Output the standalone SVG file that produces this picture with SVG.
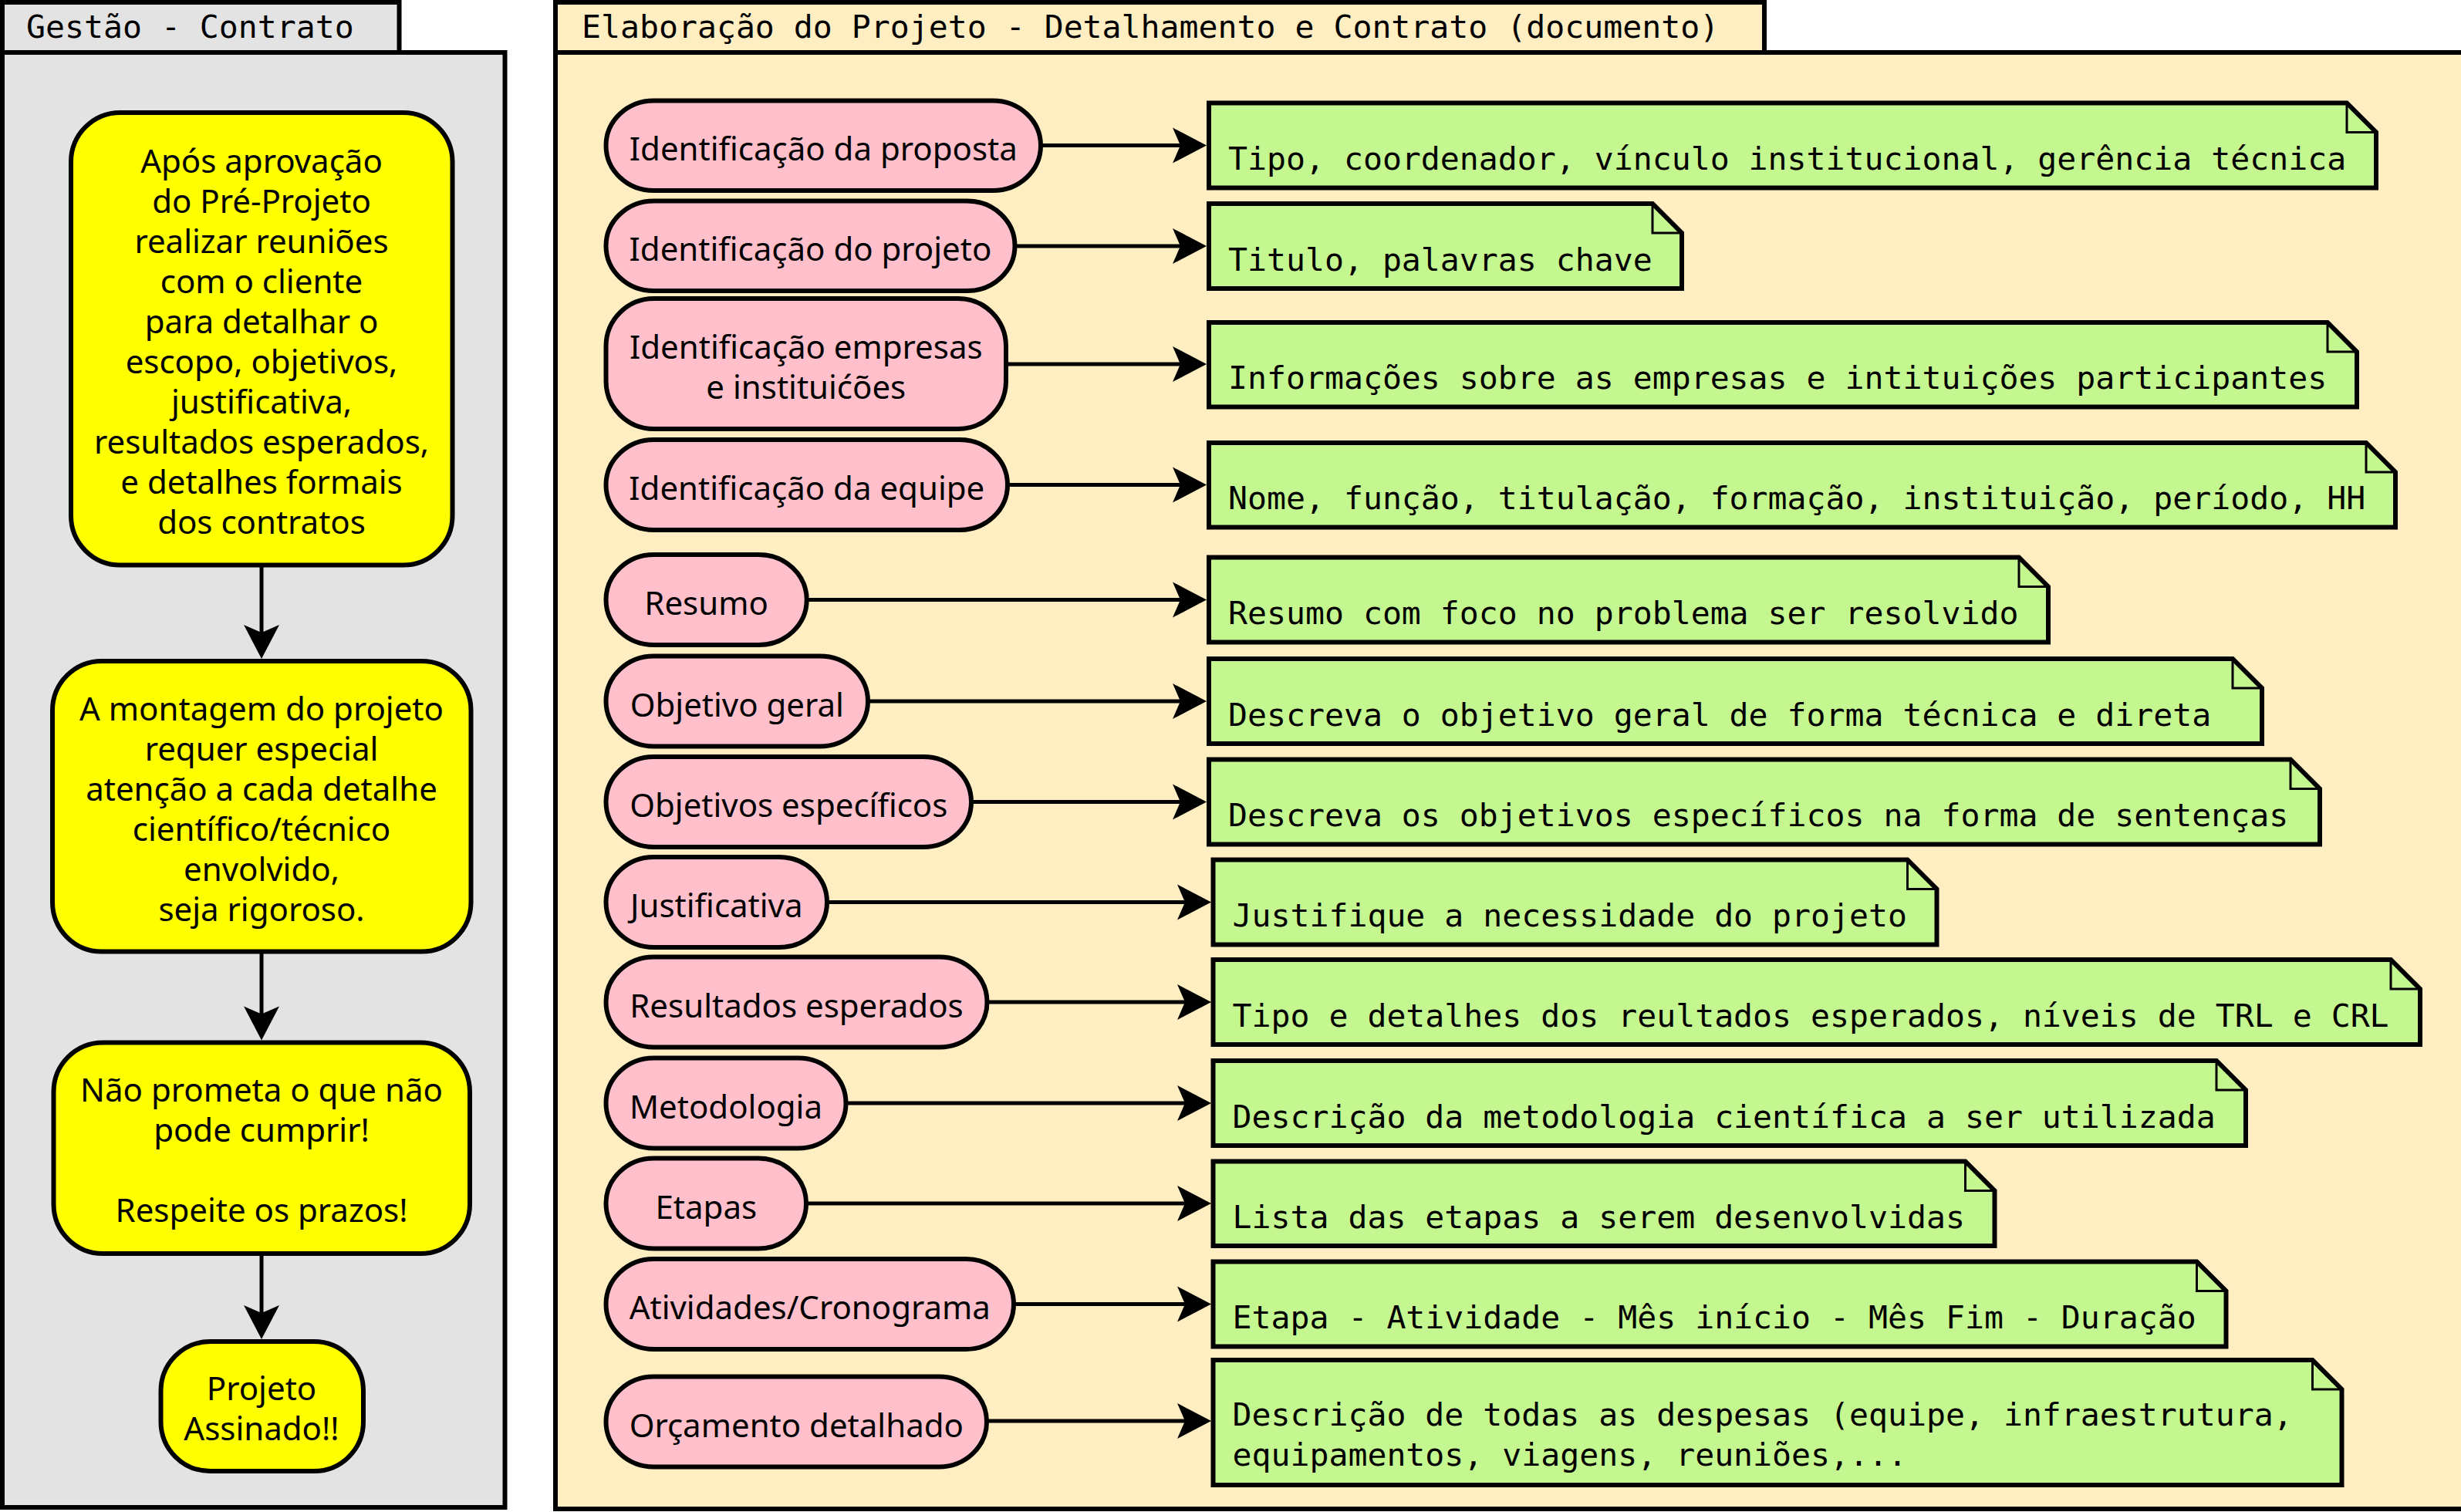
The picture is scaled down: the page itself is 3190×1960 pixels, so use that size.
<svg xmlns="http://www.w3.org/2000/svg" width="3190" height="1960" viewBox="0 0 3190 1960">
<defs>
<style>
.panelL{fill:#E3E3E3;stroke:#000;stroke-width:6}
.panelR{fill:#FFEEC2;stroke:#000;stroke-width:6}
.mono{font-family:"DejaVu Sans Mono",monospace;font-size:41.5px;fill:#000}
.sans{font-family:"Noto Sans","Open Sans",sans-serif;font-size:42px;fill:#000;text-anchor:middle}
.yel{fill:#FFFF00;stroke:#000;stroke-width:6}
.pink{fill:#FFC0CB;stroke:#000;stroke-width:6}
.note{fill:#C5F790;stroke:#000;stroke-width:6;stroke-linejoin:miter}
.fold{fill:none;stroke:#000;stroke-width:3}
.edge{fill:none;stroke:#000;stroke-width:5}
</style>
<marker id="ah" markerUnits="userSpaceOnUse" markerWidth="46" markerHeight="48" viewBox="-15 -24 46 48" refX="0" refY="0" orient="auto">
<path d="M30,0 L-14,-23 L-4,0 L-14,23 Z" fill="#000"/>
</marker>
</defs>

<g id="panel-gestao">
<rect class="panelL" x="3" y="68" width="651.5" height="1886"/>
<rect class="panelL" x="3" y="3" width="514.5" height="65"/>
<text class="mono" x="34" y="49">Gestão - Contrato</text>
</g>

<g id="panel-elaboracao">
<rect class="panelR" x="720" y="68" width="2476" height="1888"/>
<rect class="panelR" x="720" y="3" width="1567" height="65"/>
<text class="mono" x="754" y="49">Elaboração do Projeto - Detalhamento e Contrato (documento)</text>
</g>

<g id="g1">
<rect class="yel" x="92" y="146" width="494.5" height="586.5" rx="64"/>
<text class="sans" x="339" y="224">Após aprovação</text>
<text class="sans" x="339" y="276">do Pré-Projeto</text>
<text class="sans" x="339" y="328">realizar reuniões</text>
<text class="sans" x="339" y="380">com o cliente</text>
<text class="sans" x="339" y="432">para detalhar o</text>
<text class="sans" x="339" y="484">escopo, objetivos,</text>
<text class="sans" x="339" y="536">justificativa,</text>
<text class="sans" x="339" y="588">resultados esperados,</text>
<text class="sans" x="339" y="640">e detalhes formais</text>
<text class="sans" x="339" y="692">dos contratos</text>
</g>
<g id="g2">
<rect class="yel" x="68" y="857" width="542.5" height="376.5" rx="64"/>
<text class="sans" x="339" y="934">A montagem do projeto</text>
<text class="sans" x="339" y="986">requer especial</text>
<text class="sans" x="339" y="1038">atenção a cada detalhe</text>
<text class="sans" x="339" y="1090">científico/técnico</text>
<text class="sans" x="339" y="1142">envolvido,</text>
<text class="sans" x="339" y="1194">seja rigoroso.</text>
</g>
<g id="g3">
<rect class="yel" x="69.5" y="1351.5" width="539.5" height="273.5" rx="64"/>
<text class="sans" x="339" y="1428">Não prometa o que não</text>
<text class="sans" x="339" y="1480">pode cumprir!</text>
<text class="sans" x="339" y="1584">Respeite os prazos!</text>
</g>
<g id="g4">
<rect class="yel" x="208.5" y="1739" width="262.5" height="168" rx="64"/>
<text class="sans" x="339" y="1815">Projeto</text>
<text class="sans" x="339" y="1867">Assinado!!</text>
</g>

<g id="p1"><rect class="pink" x="785.5" y="130.5" width="563.5" height="116.5" rx="62"/><text class="sans" x="1067.3" y="208.3">Identificação da proposta</text></g>
<g id="p2"><rect class="pink" x="785.5" y="260.5" width="530" height="116.5" rx="62"/><text class="sans" x="1050.5" y="338.3">Identificação do projeto</text></g>
<g id="p3"><rect class="pink" x="785.5" y="387" width="518.5" height="169" rx="62"/><text class="sans" x="1044.8" y="465">Identificação empresas</text><text class="sans" x="1044.8" y="517">e instituićões</text></g>
<g id="p4"><rect class="pink" x="785.5" y="570" width="520.5" height="117" rx="62"/><text class="sans" x="1045.8" y="648">Identificação da equipe</text></g>
<g id="p5"><rect class="pink" x="785.5" y="719" width="260.2" height="117" rx="62"/><text class="sans" x="915.6" y="797">Resumo</text></g>
<g id="p6"><rect class="pink" x="785.5" y="850.5" width="339.5" height="117" rx="62"/><text class="sans" x="955.3" y="928.5">Objetivo geral</text></g>
<g id="p7"><rect class="pink" x="785.5" y="981" width="473.5" height="117" rx="62"/><text class="sans" x="1022.3" y="1059">Objetivos específicos</text></g>
<g id="p8"><rect class="pink" x="785.5" y="1111" width="286.5" height="117" rx="62"/><text class="sans" x="928.8" y="1189">Justificativa</text></g>
<g id="p9"><rect class="pink" x="785.5" y="1240.5" width="494" height="117" rx="62"/><text class="sans" x="1032.5" y="1318.5">Resultados esperados</text></g>
<g id="p10"><rect class="pink" x="785.5" y="1371.5" width="311" height="117" rx="62"/><text class="sans" x="941" y="1449.5">Metodologia</text></g>
<g id="p11"><rect class="pink" x="785.5" y="1501.5" width="259.5" height="117" rx="62"/><text class="sans" x="915.3" y="1579.5">Etapas</text></g>
<g id="p12"><rect class="pink" x="785.5" y="1632" width="528.5" height="117" rx="62"/><text class="sans" x="1049.8" y="1710">Atividades/Cronograma</text></g>
<g id="p13"><rect class="pink" x="785.5" y="1784.5" width="493.5" height="117" rx="62"/><text class="sans" x="1032.3" y="1862.5">Orçamento detalhado</text></g>

<g id="n1"><path class="note" d="M1567,133.5 H3042 L3080,171.5 V243.5 H1567 Z"/><path class="fold" d="M3042,133.5 V171.5 H3080"/><text class="mono" x="1592" y="220">Tipo, coordenador, vínculo institucional, gerência técnica</text></g>
<g id="n2"><path class="note" d="M1567,264 H2142 L2180,302 V374 H1567 Z"/><path class="fold" d="M2142,264 V302 H2180"/><text class="mono" x="1592" y="350.5">Titulo, palavras chave</text></g>
<g id="n3"><path class="note" d="M1567,418 H3017 L3055,456 V527.5 H1567 Z"/><path class="fold" d="M3017,418 V456 H3055"/><text class="mono" x="1592" y="504">Informações sobre as empresas e intituições participantes</text></g>
<g id="n4"><path class="note" d="M1567,574 H3067 L3105,612 V683.5 H1567 Z"/><path class="fold" d="M3067,574 V612 H3105"/><text class="mono" x="1592" y="660">Nome, função, titulação, formação, instituição, período, HH</text></g>
<g id="n5"><path class="note" d="M1567,722.5 H2617 L2655,760.5 V832.5 H1567 Z"/><path class="fold" d="M2617,722.5 V760.5 H2655"/><text class="mono" x="1592" y="809">Resumo com foco no problema ser resolvido</text></g>
<g id="n6"><path class="note" d="M1567,854 H2894 L2932,892 V964 H1567 Z"/><path class="fold" d="M2894,854 V892 H2932"/><text class="mono" x="1592" y="940.5">Descreva o objetivo geral de forma técnica e direta</text></g>
<g id="n7"><path class="note" d="M1567,984.5 H2969 L3007,1022.5 V1094.5 H1567 Z"/><path class="fold" d="M2969,984.5 V1022.5 H3007"/><text class="mono" x="1592" y="1071">Descreva os objetivos específicos na forma de sentenças</text></g>
<g id="n8"><path class="note" d="M1572.5,1114.5 H2472.5 L2510.5,1152.5 V1224.5 H1572.5 Z"/><path class="fold" d="M2472.5,1114.5 V1152.5 H2510.5"/><text class="mono" x="1597.5" y="1201">Justifique a necessidade do projeto</text></g>
<g id="n9"><path class="note" d="M1572.5,1244 H3099 L3137,1282 V1354 H1572.5 Z"/><path class="fold" d="M3099,1244 V1282 H3137"/><text class="mono" x="1597.5" y="1330.5">Tipo e detalhes dos reultados esperados, níveis de TRL e CRL</text></g>
<g id="n10"><path class="note" d="M1572.5,1375 H2873 L2911,1413 V1485 H1572.5 Z"/><path class="fold" d="M2873,1375 V1413 H2911"/><text class="mono" x="1597.5" y="1461.5">Descrição da metodologia científica a ser utilizada</text></g>
<g id="n11"><path class="note" d="M1572.5,1505.5 H2547.5 L2585.5,1543.5 V1615 H1572.5 Z"/><path class="fold" d="M2547.5,1505.5 V1543.5 H2585.5"/><text class="mono" x="1597.5" y="1591.5">Lista das etapas a serem desenvolvidas</text></g>
<g id="n12"><path class="note" d="M1572.5,1635.5 H2847.5 L2885.5,1673.5 V1745.5 H1572.5 Z"/><path class="fold" d="M2847.5,1635.5 V1673.5 H2885.5"/><text class="mono" x="1597.5" y="1722">Etapa - Atividade - Mês início - Mês Fim - Duração</text></g>
<g id="n13"><path class="note" d="M1572.5,1763 H2997.5 L3035.5,1801 V1925 H1572.5 Z"/><path class="fold" d="M2997.5,1763 V1801 H3035.5"/><text class="mono" x="1597.5" y="1848">Descrição de todas as despesas (equipe, infraestrutura,</text><text class="mono" x="1597.5" y="1900">equipamentos, viagens, reuniões,...</text></g>

<g id="connectors">
<line class="edge" x1="339" y1="732.5" x2="339" y2="824" marker-end="url(#ah)"/>
<line class="edge" x1="339" y1="1233.5" x2="339" y2="1318.5" marker-end="url(#ah)"/>
<line class="edge" x1="339" y1="1625" x2="339" y2="1706" marker-end="url(#ah)"/>
<line class="edge" x1="1349" y1="188.5" x2="1534" y2="188.5" marker-end="url(#ah)"/>
<line class="edge" x1="1315.5" y1="319" x2="1534" y2="319" marker-end="url(#ah)"/>
<line class="edge" x1="1304" y1="472" x2="1534" y2="472" marker-end="url(#ah)"/>
<line class="edge" x1="1306" y1="628.5" x2="1534" y2="628.5" marker-end="url(#ah)"/>
<line class="edge" x1="1045.7" y1="777.5" x2="1534" y2="777.5" marker-end="url(#ah)"/>
<line class="edge" x1="1125" y1="909" x2="1534" y2="909" marker-end="url(#ah)"/>
<line class="edge" x1="1259" y1="1039.5" x2="1534" y2="1039.5" marker-end="url(#ah)"/>
<line class="edge" x1="1072" y1="1169.5" x2="1540" y2="1169.5" marker-end="url(#ah)"/>
<line class="edge" x1="1279.5" y1="1299" x2="1540" y2="1299" marker-end="url(#ah)"/>
<line class="edge" x1="1096.5" y1="1430" x2="1540" y2="1430" marker-end="url(#ah)"/>
<line class="edge" x1="1045" y1="1560" x2="1540" y2="1560" marker-end="url(#ah)"/>
<line class="edge" x1="1314" y1="1690.5" x2="1540" y2="1690.5" marker-end="url(#ah)"/>
<line class="edge" x1="1279" y1="1842" x2="1540" y2="1842" marker-end="url(#ah)"/>
</g>
</svg>
